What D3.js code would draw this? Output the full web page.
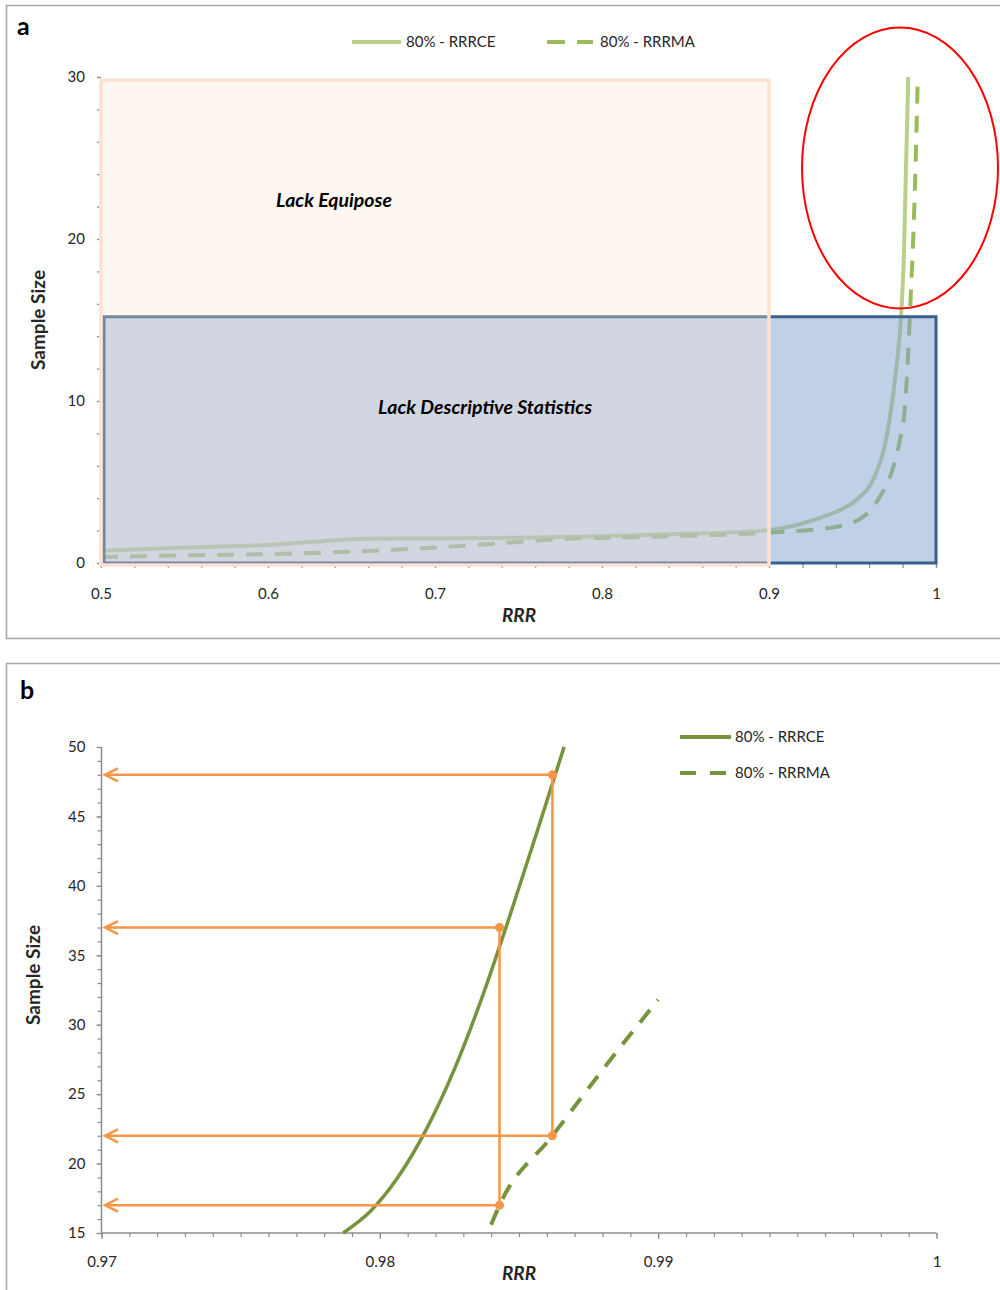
<!DOCTYPE html>
<html><head><meta charset="utf-8">
<script src="https://cdn.jsdelivr.net/npm/d3@7"></script>
<style>
body{margin:0;background:#fff}
svg{display:block}
text{font-family:Lato,"Open Sans",sans-serif;fill:#262626}
.axis path{display:none}
.axis line{stroke:#8c8c8c;stroke-width:1.2}
.axis text{font-size:15px;fill:#262626;font-family:Lato,"Open Sans",sans-serif}
</style>
</head><body>
<svg id="chart" width="1000" height="1290"></svg>
<script>
// ---- Panel a: full RRR range ----
const rrrA_ce  = [0.5, 0.55, 0.6, 0.66, 0.7, 0.75, 0.8, 0.85, 0.9, 0.9266, 0.9425, 0.9523, 0.9632, 0.9692, 0.9733, 0.9763, 0.9794, 0.9808, 0.982, 0.9834];
const sizeA_ce = [0.76, 0.95, 1.11, 1.5, 1.52, 1.56, 1.65, 1.8, 2.04, 2.65, 3.27, 3.89, 5.33, 7.18, 9.65, 12.1, 15.8, 19.1, 24.3, 30];
const rrrA_ma  = [0.5, 0.55, 0.6, 0.65, 0.7, 0.75, 0.78, 0.8, 0.85, 0.9, 0.9405, 0.9565, 0.9665, 0.9745, 0.9784, 0.9814, 0.9834, 0.9844, 0.9874, 0.9891];
const sizeA_ma = [0.37, 0.47, 0.55, 0.7, 0.95, 1.3, 1.5, 1.55, 1.68, 1.87, 2.24, 2.86, 4.1, 5.95, 7.6, 9.65, 13.1, 15.4, 23.2, 30];
const xTicksA = [0.5, 0.6, 0.7, 0.8, 0.9, 1];
const yTicksA = [0, 10, 20, 30];
// shaded zones: [rrr from, rrr to, size from, size to]
const zoneEquipose    = [0.5, 0.9, 0, 29.8];
const zoneDescriptive = [0.5018, 1, 0, 15.2];
const zoneLabels = ["Lack Equipose", "Lack Descriptive Statistics"];

// ---- Panel b: zoom on RRR 0.97–1 ----
const rrrB_ce  = [0.97868, 0.97968, 0.98068, 0.98168, 0.98268, 0.98368, 0.98468, 0.98568, 0.98662];
const sizeB_ce = [15, 16.6, 19.1, 22.5, 26.8, 32.0, 37.9, 44.1, 50];
const rrrB_ma  = [0.9840, 0.9843, 0.9862, 0.9881, 0.9900];
const sizeB_ma = [15.6, 17.0, 22.0, 27.0, 31.8];
const xTicksB = [0.97, 0.98, 0.99, 1];
const yTicksB = [15, 20, 25, 30, 35, 40, 45, 50];
// read-outs: RRR and the two sample sizes (RRRMA, RRRCE) at that RRR
const readRRR  = [0.9843, 0.9862];
const readLow  = [17, 22];
const readHigh = [37, 48];

const seriesNames = ["80% - RRRCE", "80% - RRRMA"];

const svg = d3.select("#chart");
const green = "#9bbb59", darkGreen = "#77933c", orange = "#f79646";

// panel frames
svg.append("rect").attr("x", 6.5).attr("y", 5.5).attr("width", 1000).attr("height", 633)
  .attr("fill", "#fff").attr("stroke", "#a6a6a6").attr("stroke-width", 1.5);
svg.append("rect").attr("x", 6.5).attr("y", 663.5).attr("width", 1000).attr("height", 640)
  .attr("fill", "#fff").attr("stroke", "#a6a6a6").attr("stroke-width", 1.5);
svg.append("text").attr("x", 17).attr("y", 35).attr("font-size", 25).attr("font-weight", "bold").style("fill", "#000").text("a");
svg.append("text").attr("x", 20).attr("y", 699).attr("font-size", 25).attr("font-weight", "bold").style("fill", "#000").text("b");

// ================= Panel a =================
const xA = d3.scaleLinear().domain([0.5, 1]).range([101, 936]);
const yA = d3.scaleLinear().domain([0, 30]).range([563, 77]);

const minorXA = d3.range(0, 26).map(i => 0.5 + i * 0.02);
svg.append("g").attr("class", "axis").attr("transform", "translate(0,564)")
  .call(d3.axisBottom(xA).tickValues(minorXA).tickSize(4).tickFormat(""));
svg.append("g").attr("class", "axis").attr("transform", "translate(0,564)")
  .call(d3.axisBottom(xA).tickValues(xTicksA).tickSize(4).tickPadding(20).tickFormat(d3.format("")));
const minorYA = d3.range(0, 16).map(i => i * 2);
svg.append("g").attr("class", "axis").attr("transform", "translate(101,0)")
  .call(d3.axisLeft(yA).tickValues(minorYA).tickSize(4).tickFormat(""));
svg.append("g").attr("class", "axis").attr("transform", "translate(101,0)")
  .call(d3.axisLeft(yA).tickValues(yTicksA).tickSize(4).tickPadding(12));

const lineA = d3.line().curve(d3.curveMonotoneX).x(d => xA(d[0])).y(d => yA(d[1]));
svg.append("path").datum(d3.zip(rrrA_ce, sizeA_ce)).attr("d", lineA)
  .attr("fill", "none").attr("stroke", green).attr("stroke-opacity", 0.7).attr("stroke-width", 4);
svg.append("path").datum(d3.zip(rrrA_ma, sizeA_ma)).attr("d", lineA)
  .attr("fill", "none").attr("stroke", green).attr("stroke-width", 4).attr("stroke-dasharray", "17,12");

// translucent zone boxes over the curves
svg.append("rect")
  .attr("x", xA(zoneDescriptive[0])).attr("y", yA(zoneDescriptive[3]))
  .attr("width", xA(zoneDescriptive[1]) - xA(zoneDescriptive[0]))
  .attr("height", yA(zoneDescriptive[2]) - yA(zoneDescriptive[3]))
  .attr("fill", "#81a3cf").attr("fill-opacity", 0.5)
  .attr("stroke", "#3b5f8c").attr("stroke-width", 3);
svg.append("rect")
  .attr("x", xA(zoneEquipose[0])).attr("y", yA(zoneEquipose[3]))
  .attr("width", xA(zoneEquipose[1]) - xA(zoneEquipose[0]))
  .attr("height", yA(zoneEquipose[2]) - yA(zoneEquipose[3]) + 2)
  .attr("fill", "#fde2d0").attr("fill-opacity", 0.3)
  .attr("stroke", "#fce2d0").attr("stroke-width", 3.5);

svg.append("text").attr("x", xA(0.6395)).attr("y", yA(22.0)).attr("text-anchor", "middle")
  .attr("font-size", 19.5).attr("font-weight", "bold").attr("font-style", "italic").style("fill", "#000")
  .text(zoneLabels[0]);
svg.append("text").attr("x", xA(0.7300)).attr("y", yA(9.2)).attr("text-anchor", "middle")
  .attr("font-size", 19.5).attr("font-weight", "bold").attr("font-style", "italic").style("fill", "#000")
  .text(zoneLabels[1]);

// highlight ring around the steep part of the curves
svg.append("ellipse").attr("cx", 900).attr("cy", 168).attr("rx", 98).attr("ry", 140.5)
  .attr("fill", "none").attr("stroke", "#ff0000").attr("stroke-width", 2);

// axis titles a
svg.append("text").attr("x", 519).attr("y", 622).attr("text-anchor", "middle")
  .attr("font-size", 19).attr("font-weight", "bold").attr("font-style", "italic").text("RRR");
svg.append("text").attr("transform", "translate(45,320) rotate(-90)").attr("text-anchor", "middle")
  .attr("font-size", 19).attr("font-weight", "bold").text("Sample Size");

// legend a
svg.append("line").attr("x1", 352).attr("x2", 401).attr("y1", 42).attr("y2", 42)
  .attr("stroke", green).attr("stroke-opacity", 0.7).attr("stroke-width", 4);
svg.append("text").attr("x", 406).attr("y", 47).attr("font-size", 15).text(seriesNames[0]);
svg.append("line").attr("x1", 547).attr("x2", 593).attr("y1", 42).attr("y2", 42)
  .attr("stroke", green).attr("stroke-width", 4).attr("stroke-dasharray", "18,12");
svg.append("text").attr("x", 600).attr("y", 47).attr("font-size", 15).text(seriesNames[1]);

// ================= Panel b =================
const xB = d3.scaleLinear().domain([0.97, 1]).range([101.5, 936.5]);
const yB = d3.scaleLinear().domain([15, 50]).range([1233, 747]);

const minorXB = d3.range(0, 31).map(i => 0.97 + i * 0.001);
svg.append("g").attr("class", "axis").attr("transform", "translate(0,1233)")
  .call(d3.axisBottom(xB).tickValues(minorXB).tickSize(4).tickFormat(""));
svg.append("g").attr("class", "axis").attr("transform", "translate(0,1233)")
  .call(d3.axisBottom(xB).tickValues(xTicksB).tickSize(6).tickPadding(17).tickFormat(d3.format("")));
const minorYB = d3.range(15, 51);
svg.append("g").attr("class", "axis").attr("transform", "translate(101.5,0)")
  .call(d3.axisLeft(yB).tickValues(minorYB).tickSize(4).tickFormat(""));
svg.append("g").attr("class", "axis").attr("transform", "translate(101.5,0)")
  .call(d3.axisLeft(yB).tickValues(yTicksB).tickSize(5).tickPadding(11));
svg.append("line").attr("x1", 101.5).attr("x2", 101.5).attr("y1", yB(50)).attr("y2", yB(15))
  .attr("stroke", "#8c8c8c").attr("stroke-width", 1.5);
svg.append("line").attr("x1", 101.5).attr("x2", 936.5).attr("y1", 1233).attr("y2", 1233)
  .attr("stroke", "#8c8c8c").attr("stroke-width", 1.5);

const lineB = d3.line().curve(d3.curveMonotoneX).x(d => xB(d[0])).y(d => yB(d[1]));
svg.append("path").datum(d3.zip(rrrB_ce, sizeB_ce)).attr("d", lineB)
  .attr("fill", "none").attr("stroke", darkGreen).attr("stroke-width", 3.5);
svg.append("path").datum(d3.zip(rrrB_ma, sizeB_ma)).attr("d", lineB)
  .attr("fill", "none").attr("stroke", darkGreen).attr("stroke-width", 4).attr("stroke-dasharray", "16,12");

// read-out guides: vertical drop plus arrows back to the y axis
const gRead = svg.append("g").attr("stroke", orange).attr("fill", "none").attr("stroke-width", 2.5);
readRRR.forEach((r, i) => {
  const x = xB(r);
  gRead.append("line").attr("x1", x).attr("x2", x).attr("y1", yB(readHigh[i])).attr("y2", yB(readLow[i]));
  [readLow[i], readHigh[i]].forEach(s => {
    const y = yB(s), tip = xB(0.97) + 3.5;
    gRead.append("line").attr("x1", x).attr("x2", tip).attr("y1", y).attr("y2", y);
    gRead.append("path").attr("d", `M${tip + 13},${y - 6.5}L${tip},${y}L${tip + 13},${y + 6.5}`);
    svg.append("circle").attr("cx", x).attr("cy", y).attr("r", 4.5).attr("fill", orange);
  });
});

// axis titles b
svg.append("text").attr("x", 519).attr("y", 1280).attr("text-anchor", "middle")
  .attr("font-size", 19).attr("font-weight", "bold").attr("font-style", "italic").text("RRR");
svg.append("text").attr("transform", "translate(40,975) rotate(-90)").attr("text-anchor", "middle")
  .attr("font-size", 19).attr("font-weight", "bold").text("Sample Size");

// legend b
svg.append("line").attr("x1", 680).attr("x2", 731).attr("y1", 737).attr("y2", 737)
  .attr("stroke", darkGreen).attr("stroke-width", 4);
svg.append("text").attr("x", 735).attr("y", 742).attr("font-size", 15).text(seriesNames[0]);
svg.append("line").attr("x1", 680).attr("x2", 726).attr("y1", 773).attr("y2", 773)
  .attr("stroke", darkGreen).attr("stroke-width", 4).attr("stroke-dasharray", "16,14");
svg.append("text").attr("x", 735).attr("y", 778).attr("font-size", 15).text(seriesNames[1]);
</script>
</body></html>
